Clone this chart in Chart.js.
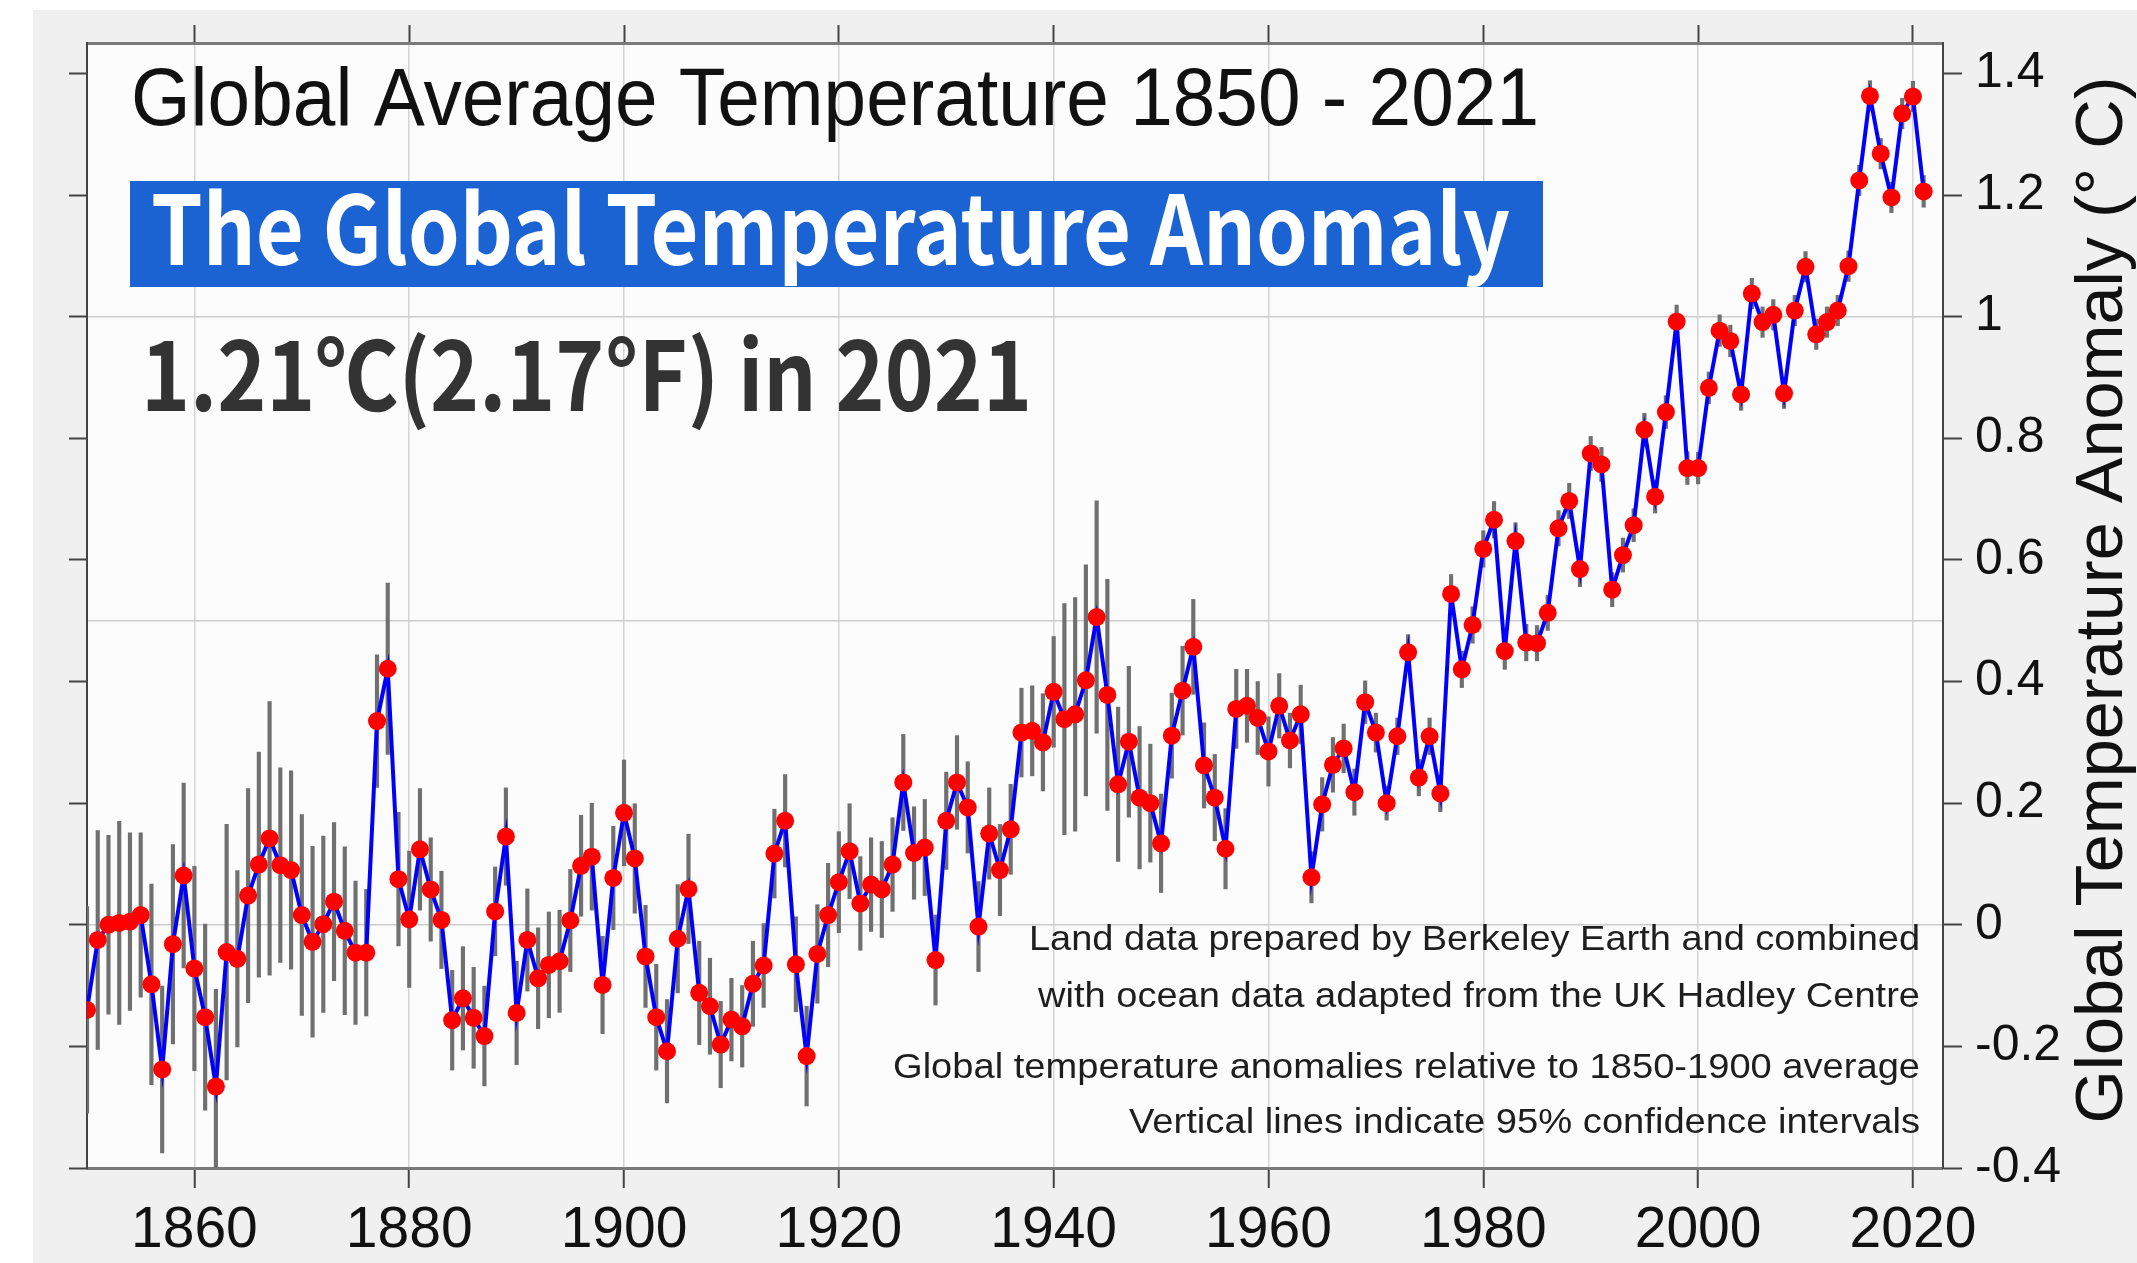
<!DOCTYPE html>
<html>
<head>
<meta charset="utf-8">
<script src="https://cdn.jsdelivr.net/npm/chart.js@4.4.1/dist/chart.umd.min.js"></script>
<style>
  html, body { margin: 0; padding: 0; background: #fff; }
  #grafico { display: block; }
</style>
</head>
<body>
<canvas id="grafico" width="2137" height="1263"></canvas>
<script>
// years on the x axis
const years = [
  1850,1851,1852,1853,1854,1855,1856,1857,1858,1859,
  1860,1861,1862,1863,1864,1865,1866,1867,1868,1869,
  1870,1871,1872,1873,1874,1875,1876,1877,1878,1879,
  1880,1881,1882,1883,1884,1885,1886,1887,1888,1889,
  1890,1891,1892,1893,1894,1895,1896,1897,1898,1899,
  1900,1901,1902,1903,1904,1905,1906,1907,1908,1909,
  1910,1911,1912,1913,1914,1915,1916,1917,1918,1919,
  1920,1921,1922,1923,1924,1925,1926,1927,1928,1929,
  1930,1931,1932,1933,1934,1935,1936,1937,1938,1939,
  1940,1941,1942,1943,1944,1945,1946,1947,1948,1949,
  1950,1951,1952,1953,1954,1955,1956,1957,1958,1959,
  1960,1961,1962,1963,1964,1965,1966,1967,1968,1969,
  1970,1971,1972,1973,1974,1975,1976,1977,1978,1979,
  1980,1981,1982,1983,1984,1985,1986,1987,1988,1989,
  1990,1991,1992,1993,1994,1995,1996,1997,1998,1999,
  2000,2001,2002,2003,2004,2005,2006,2007,2008,2009,
  2010,2011,2012,2013,2014,2015,2016,2017,2018,2019,
  2020,2021
];

// annual anomaly (°C, relative to 1850-1900)
const anomaly = [
  -0.140,-0.025, 0.000, 0.003, 0.005, 0.016,-0.098,-0.238,-0.032, 0.081,
  -0.072,-0.152,-0.266,-0.045,-0.056, 0.048, 0.099, 0.142, 0.098, 0.090,
   0.016,-0.028, 0.001, 0.038,-0.010,-0.046,-0.046, 0.335, 0.421, 0.075,
   0.009, 0.124, 0.058, 0.008,-0.157,-0.121,-0.153,-0.183, 0.022, 0.145,
  -0.145,-0.025,-0.088,-0.066,-0.060, 0.007, 0.097, 0.112,-0.099, 0.077,
   0.184, 0.109,-0.052,-0.152,-0.208,-0.023, 0.059,-0.112,-0.134,-0.197,
  -0.156,-0.167,-0.097,-0.067, 0.117, 0.171,-0.065,-0.216,-0.048, 0.016,
   0.070, 0.121, 0.035, 0.066, 0.058, 0.099, 0.234, 0.118, 0.127,-0.058,
   0.171, 0.234, 0.193,-0.003, 0.150, 0.090, 0.157, 0.316, 0.319, 0.300,
   0.383, 0.338, 0.346, 0.402, 0.506, 0.378, 0.231, 0.301, 0.209, 0.200,
   0.134, 0.311, 0.385, 0.457, 0.262, 0.209, 0.125, 0.355, 0.360, 0.340,
   0.285, 0.360, 0.303, 0.346, 0.078, 0.198, 0.263, 0.290, 0.218, 0.366,
   0.316, 0.200, 0.310, 0.448, 0.242, 0.310, 0.216, 0.544, 0.420, 0.493,
   0.618, 0.666, 0.450, 0.631, 0.464, 0.463, 0.513, 0.652, 0.697, 0.585,
   0.775, 0.757, 0.551, 0.608, 0.657, 0.814, 0.704, 0.843, 0.992, 0.751,
   0.751, 0.883, 0.977, 0.960, 0.872, 1.038, 0.991, 1.003, 0.874, 1.010,
   1.082, 0.971, 0.991, 1.010, 1.083, 1.224, 1.363, 1.268, 1.196, 1.334,
   1.362, 1.206
];

// half-width of the 95% confidence interval
const uncertainty = [
  0.170,0.180,0.147,0.167,0.146,0.135,0.165,0.137,0.164,0.152,
  0.168,0.153,0.160,0.210,0.145,0.176,0.185,0.225,0.160,0.163,
  0.165,0.157,0.145,0.130,0.138,0.118,0.104,0.109,0.141,0.110,
  0.112,0.100,0.085,0.080,0.082,0.085,0.083,0.082,0.073,0.080,
  0.085,0.084,0.083,0.087,0.084,0.084,0.083,0.088,0.080,0.085,
  0.087,0.090,0.084,0.087,0.085,0.089,0.090,0.085,0.079,0.071,
  0.068,0.067,0.070,0.069,0.073,0.076,0.078,0.082,0.081,0.085,
  0.083,0.078,0.077,0.077,0.079,0.077,0.079,0.076,0.079,0.074,
  0.080,0.077,0.075,0.074,0.075,0.075,0.074,0.073,0.074,0.080,
  0.091,0.190,0.192,0.190,0.191,0.190,0.127,0.124,0.117,0.097,
  0.081,0.070,0.073,0.078,0.070,0.071,0.066,0.065,0.060,0.060,
  0.057,0.053,0.045,0.048,0.042,0.044,0.045,0.040,0.038,0.035,
  0.032,0.028,0.030,0.029,0.030,0.030,0.030,0.032,0.030,0.030,
  0.030,0.030,0.030,0.030,0.030,0.029,0.029,0.029,0.029,0.029,
  0.028,0.028,0.028,0.028,0.027,0.027,0.027,0.027,0.027,0.027,
  0.026,0.026,0.026,0.026,0.026,0.025,0.025,0.025,0.025,0.025,
  0.025,0.025,0.025,0.025,0.025,0.025,0.025,0.025,0.025,0.025,
  0.025,0.026
];

const xTickStep = 20;
const yTickStep = 0.2;

const title = 'Global Average Temperature 1850 - 2021';
const banner = 'The Global Temperature Anomaly';
const headline = '1.21℃(2.17℉) in 2021';
const notes = [
  'Land data prepared by Berkeley Earth and combined',
  'with ocean data adapted from the UK Hadley Centre',
  'Global temperature anomalies relative to 1850-1900 average',
  'Vertical lines indicate 95% confidence intervals'
];
const yTitle = 'Global Temperature Anomaly (° C)';

const SANS = '"Liberation Sans", Arial, Helvetica, sans-serif';
const KR = '"Noto Sans CJK KR", "Noto Sans", sans-serif';

// draws text squeezed/stretched to a given width
function fitText(c, text, x, y, w, align) {
  c.save();
  c.textAlign = align || 'left';
  const m = c.measureText(text).width;
  c.translate(x, y);
  c.scale(w / m, 1);
  c.fillText(text, 0, 0);
  c.restore();
}

const fondo = {
  id: 'fondo',
  beforeDraw(chart) {
    const c = chart.ctx, a = chart.chartArea;
    c.save();
    c.fillStyle = '#ffffff';
    c.fillRect(0, 0, chart.width, chart.height);
    c.fillStyle = '#f0f0f0';
    c.fillRect(33, 10, chart.width - 33, chart.height - 10);
    c.fillStyle = '#fcfcfc';
    c.fillRect(a.left, a.top, a.right - a.left, a.bottom - a.top);
    c.restore();
  }
};

const textos = {
  id: 'textos',
  afterDraw(chart) {
    const c = chart.ctx;
    c.save();
    c.textBaseline = 'alphabetic';

    c.fillStyle = '#111';
    c.font = '81px ' + SANS;
    fitText(c, title, 131, 125, 1408);

    c.fillStyle = '#1b63d3';
    c.fillRect(130, 181, 1413, 106);
    c.fillStyle = '#ffffff';
    c.font = 'bold 96px ' + KR;
    fitText(c, banner, 151, 265, 1359);

    c.fillStyle = '#333333';
    c.font = 'bold 95px ' + KR;
    fitText(c, headline, 141, 411, 891);

    c.fillStyle = '#1e1e1e';
    c.font = '35px ' + SANS;
    const base = [950, 1007, 1078, 1133];
    const widths = [891, 882, 1027, 791];
    notes.forEach((t, i) => fitText(c, t, 1920, base[i], widths[i], 'right'));

    // y title on the right, read bottom to top
    c.fillStyle = '#111';
    c.font = '66px ' + SANS;
    c.translate(2122, 600);
    c.rotate(-Math.PI / 2);
    fitText(c, yTitle, 0, 0, 1047, 'center');
    c.restore();
  }
};

const errorBars = years.map((yr, i) => ({ x: yr, y: [anomaly[i] - uncertainty[i], anomaly[i] + uncertainty[i]] }));
const linePts = years.map((yr, i) => ({ x: yr, y: anomaly[i] }));

const xMin = 1850, xMax = 2022.8, yMin = -0.4, yMax = 1.45;

const ctx = document.getElementById('grafico').getContext('2d');
window.miGrafico = new Chart(ctx, {
  type: 'line',
  data: {
    datasets: [
      {
        type: 'bar',
        label: '95% CI',
        data: errorBars,
        backgroundColor: '#707070',
        barThickness: 3.5,
        order: 2
      },
      {
        type: 'line',
        label: 'Anomaly',
        data: linePts,
        borderColor: '#0000ff',
        borderWidth: 4,
        pointRadius: 9,
        pointHoverRadius: 9,
        pointBackgroundColor: '#ff0000',
        pointBorderWidth: 0,
        tension: 0,
        order: 1
      }
    ]
  },
  options: {
    responsive: false,
    devicePixelRatio: 1,
    animation: false,
    layout: { padding: 0 },
    plugins: { legend: { display: false }, tooltip: { enabled: false } },
    scales: {
      x: {
        type: 'linear', position: 'bottom', min: xMin, max: xMax, offset: false,
        grid: { offset: false, color: '#d4d4d4', lineWidth: 1.5, borderDash: [2, 3],
                tickColor: '#444', tickWidth: 2, tickLength: 20, tickBorderDash: [] },
        border: { color: '#7a7a7a', width: 3 },
        ticks: { stepSize: xTickStep, includeBounds: false, autoSkip: false, maxRotation: 0,
                 padding: 9, color: '#111', font: { family: SANS, size: 57 },
                 callback: v => String(v) },
        afterFit: s => { s.height = 95; }
      },
      xt: {
        type: 'linear', position: 'top', min: xMin, max: xMax, offset: false,
        grid: { drawOnChartArea: false, tickColor: '#444', tickWidth: 2, tickLength: 18 },
        border: { color: '#7a7a7a', width: 3 },
        ticks: { display: false, stepSize: xTickStep, includeBounds: false },
        afterFit: s => { s.height = 33; }
      },
      y: {
        type: 'linear', position: 'right', min: yMin, max: yMax,
        grid: { drawOnChartArea: false, tickColor: '#444', tickWidth: 2, tickLength: 19 },
        border: { color: '#444', width: 2 },
        ticks: { stepSize: yTickStep, includeBounds: false, padding: 13, color: '#111',
                 font: { family: SANS, size: 50 },
                 callback: v => String(Math.round(v * 10) / 10) },
        afterFit: s => { s.width = 194; }
      },
      yg: {
        type: 'linear', position: 'right', min: yMin, max: yMax,
        grid: { color: '#cccccc', lineWidth: 1.5, borderDash: [3, 3], drawTicks: false },
        border: { display: false },
        ticks: { display: false, stepSize: 0.5, includeBounds: false },
        afterFit: s => { s.width = 0; }
      },
      yl: {
        type: 'linear', position: 'left', min: yMin, max: yMax,
        grid: { drawOnChartArea: false, tickColor: '#444', tickWidth: 2, tickLength: 18 },
        border: { color: '#444', width: 2 },
        ticks: { display: false, stepSize: yTickStep, includeBounds: false },
        afterFit: s => { s.width = 87; }
      }
    }
  },
  plugins: [fondo, textos]
});
</script>
</body>
</html>
